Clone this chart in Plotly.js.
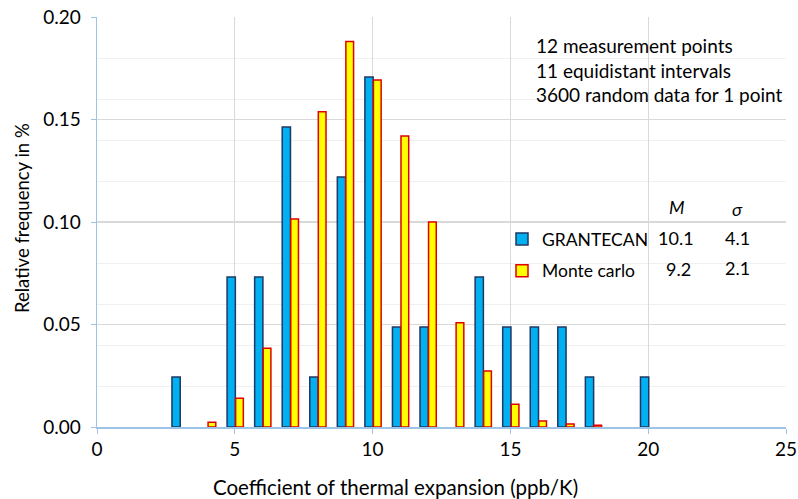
<!DOCTYPE html>
<html><head><meta charset="utf-8">
<script src="https://cdn.plot.ly/plotly-3.0.1.min.js"></script>
<style>html,body{margin:0;padding:0;background:#fff}#c{width:798px;height:499px}</style>
</head><body><div id="c"></div>
<script>
const grantX = [3, 5, 6, 7, 8, 9, 10, 11, 12, 14, 15, 16, 17, 18, 20];
const grantY = [0.0244, 0.0732, 0.0732, 0.1463, 0.0244, 0.1220, 0.1707, 0.0488, 0.0488, 0.0732, 0.0488, 0.0488, 0.0488, 0.0244, 0.0244];
const mcX = [4, 5, 6, 7, 8, 9, 10, 11, 12, 13, 14, 15, 16, 17, 18];
const mcY = [0.0023, 0.0140, 0.0384, 0.1015, 0.1538, 0.1881, 0.1693, 0.1420, 0.1000, 0.0509, 0.0273, 0.0111, 0.0029, 0.0015, 0.0008];
const xTicks = [0, 5, 10, 15, 20, 25];
const yTicks = [0, 0.05, 0.10, 0.15, 0.20];
const infoLines = ['12 measurement points', '11 equidistant intervals', '3600 random data for 1 point'];
const stats = {header: ['M', 'σ'], grant: ['10.1', '4.1'], mc: ['9.2', '2.1']};
const xTitle = 'Coefficient of thermal expansion (ppb/K)';
const yTitle = 'Relative frequency in %';

const FONT = 'Lato, "Open Sans", sans-serif';
const L = 97, R = 786, T = 17, B = 427;
const px = x => (x - L) / (R - L);
const py = y => (B - y) / (B - T);

const traces = [
  {type: 'bar', x: grantX, y: grantY, name: 'GRANTECAN', legendgroup: 'a',
   width: 0.3, offset: -0.28,
   marker: {color: '#00b0f0', line: {color: '#1f3864', width: 1.5}}},
  {type: 'bar', x: mcX, y: mcY, name: 'Monte carlo', legendgroup: 'b',
   width: 0.28, offset: 0.03,
   marker: {color: '#ffff00', line: {color: '#e00000', width: 1.5}}}
];

const ann = [];
infoLines.forEach((t, i) => ann.push({xref: 'paper', yref: 'paper', x: px(534), y: py(46 + i * 24.5),
  xanchor: 'left', yanchor: 'middle', text: t, showarrow: false, font: {family: FONT, size: 19, color: '#000'}}));
const cell = (t, x, y, it) => ann.push({xref: 'paper', yref: 'paper', x: px(x), y: py(y), xanchor: 'center', yanchor: 'middle',
  text: it ? '<i>' + t + '</i>' : t, showarrow: false, font: {family: FONT, size: 18, color: '#000'}});
cell(stats.header[0], 677, 207, true);
cell(stats.header[1], 737, 209, true);
cell(stats.grant[0], 676, 238);
cell(stats.grant[1], 737, 238);
cell(stats.mc[0], 678, 269);
cell(stats.mc[1], 737, 268);
ann.push({xref: 'paper', yref: 'paper', x: px(395), y: py(487), xanchor: 'center', yanchor: 'middle', text: xTitle,
  showarrow: false, font: {family: FONT, size: 20.5, color: '#000'}});
ann.push({xref: 'paper', yref: 'paper', x: px(22), y: py(218), xanchor: 'center', yanchor: 'middle', text: yTitle, textangle: -90,
  showarrow: false, font: {family: FONT, size: 18.5, color: '#000'}});

const layout = {
  width: 798, height: 499,
  margin: {l: L, r: 798 - R, t: T, b: 499 - B},
  paper_bgcolor: '#fff', plot_bgcolor: '#fff',
  barmode: 'overlay',
  showlegend: true,
  legend: {x: px(502), y: py(221), xanchor: 'left', yanchor: 'top', font: {family: FONT, size: 17.5, color: '#000'},
           bgcolor: 'rgba(0,0,0,0)', tracegroupgap: 6, itemwidth: 30},
  font: {family: FONT, color: '#000'},
  xaxis: {range: [0, 25], tickvals: xTicks, ticktext: xTicks.map(String), showgrid: true, gridcolor: '#d9d9d9', gridwidth: 1.2,
          zeroline: false, showline: true, linecolor: '#9dc3e6', linewidth: 1.5, ticks: 'outside', ticklen: 5, tickcolor: '#9dc3e6',
          tickfont: {family: FONT, size: 19}},
  yaxis: {range: [0, 0.2], tickvals: yTicks, ticktext: yTicks.map(v => v.toFixed(2)), showgrid: true, gridcolor: '#d9d9d9', gridwidth: 1.2,
          zeroline: false, showline: true, linecolor: '#9dc3e6', linewidth: 1.5, ticks: 'outside', ticklen: 5, tickcolor: '#9dc3e6',
          ticklabelstandoff: 6,
          minor: {dtick: 0.02, tick0: 0, showgrid: true, gridcolor: '#f0f0f0', gridwidth: 1},
          tickfont: {family: FONT, size: 19}},
  annotations: ann
};
Plotly.newPlot('c', traces, layout, {displayModeBar: false, staticPlot: true});
</script></body></html>
